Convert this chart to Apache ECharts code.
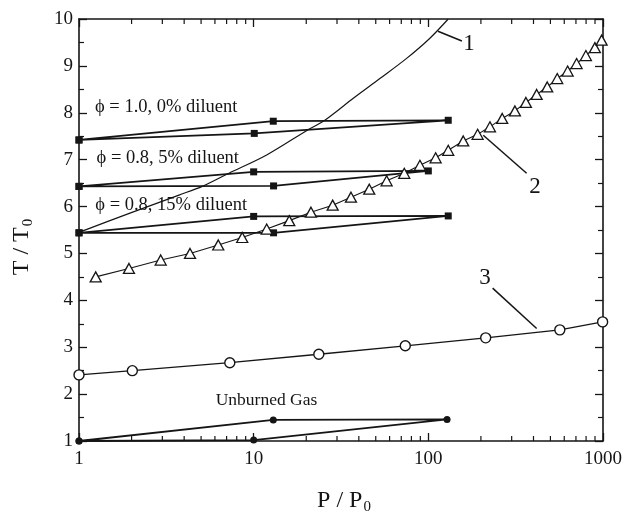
<!DOCTYPE html>
<html><head><meta charset="utf-8">
<script src="https://cdn.jsdelivr.net/npm/echarts@6/dist/echarts.min.js"></script>
<style>html,body{margin:0;padding:0;background:#fff}#c{width:622px;height:527px}</style>
</head><body><div id="c"></div>
<script>
// ---------- data ----------
const xMin = 1, xMax = 1000;
const yMin = 1, yMax = 10, yInterval = 1;
const minorXTicks = [2,3,4,5,6,7,8,9,20,30,40,50,60,70,80,90,200,300,400,500,600,700,800,900];
const xTickLabels = ['1', '10', '100', '1000'];

// curve 1
const curve1P = [1, 1.958, 3.735, 5.08, 7.22, 11.87, 20.5, 25.3, 37.2, 52.8, 75.1, 102.1, 130];
const curve1T = [5.45, 5.86, 6.245, 6.43, 6.71, 7.10, 7.64, 7.83, 8.31, 8.73, 9.16, 9.59, 10.0];

// curve 2 (triangles)
const tri2P = [1.246, 1.932, 2.936, 4.32, 6.27, 8.60, 11.87, 15.99, 21.28, 28.33, 36.06, 45.9, 57.7, 72.8, 89.5, 110.1, 130, 158.4, 191.5, 225.3, 264.8, 313.1, 362, 417, 479.3, 547, 627.3, 706, 798, 898.6, 981.7];
const tri2T = [4.50, 4.68, 4.86, 5.00, 5.18, 5.34, 5.52, 5.70, 5.88, 6.03, 6.20, 6.37, 6.55, 6.71, 6.88, 7.04, 7.20, 7.40, 7.54, 7.70, 7.88, 8.04, 8.22, 8.39, 8.55, 8.73, 8.89, 9.05, 9.22, 9.39, 9.55];

// curve 3 (circles)
const circ3P = [1, 2.02, 7.3, 23.6, 73.8, 213, 566, 995];
const circ3T = [2.41, 2.50, 2.67, 2.85, 3.03, 3.20, 3.37, 3.54];

// cycle loops
const loop10P = [1, 12.95, 130, 10.08, 1];
const loop10T = [7.42, 7.82, 7.84, 7.56, 7.42];
const loop05P = [1, 10, 100, 13, 1];
const loop05T = [6.43, 6.74, 6.76, 6.44, 6.43];
const loop15P = [1, 10, 130, 13, 1];
const loop15T = [5.44, 5.79, 5.80, 5.44, 5.44];
const unbP = [1, 12.95, 128, 10, 1];
const unbT = [1.0, 1.45, 1.46, 1.02, 1.0];

const annoTexts = ['ϕ = 1.0, 0% diluent', 'ϕ = 0.8, 5% diluent', 'ϕ = 0.8, 15% diluent', 'Unburned Gas'];
const curveNumbers = ['1', '2', '3'];

// ---------- layout (data-space anchors) ----------
const annoAnchors = [[1.235, 8.12], [1.26, 7.03], [1.24, 6.03], [6.06, 1.86]];
const annoSizes = [18.5, 18.5, 18.5, 17.5];
const numAnchors = [[170.8, 9.46], [407.5, 6.42], [210.9, 4.47]];
const pointerLines = [
  [[113.5, 9.74], [155.7, 9.53]],
  [[206.3, 7.52], [365.3, 6.71]],
  [[233.4, 4.26], [417, 3.40]]
];

const pairs = (xs, ys) => xs.map((x, i) => [x, ys[i]]);
const INK = '#151515';
const SERIF = "'Liberation Serif','DejaVu Serif',serif";

const chart = echarts.init(document.getElementById('c'), null, {renderer: 'canvas'});

const axisCommonX = {
  type: 'log', logBase: 10, min: xMin, max: xMax,
  axisLine: {show: true, lineStyle: {color: INK, width: 1.6}},
  axisTick: {show: true, inside: true, length: 8, lineStyle: {color: INK, width: 1.3}},
  splitLine: {show: false},
};
const axisCommonY = {
  type: 'value', min: yMin, max: yMax, interval: yInterval,
  axisLine: {show: true, lineStyle: {color: INK, width: 1.6}},
  axisTick: {show: true, inside: true, length: 8, lineStyle: {color: INK, width: 1.3}},
  minorTick: {show: true, splitNumber: 2, length: 5, lineStyle: {color: INK, width: 1.2}},
  splitLine: {show: false}, minorSplitLine: {show: false},
};

function loopSeries(xs, ys, symbol, size) {
  return {
    type: 'line', data: pairs(xs, ys), symbol: symbol, symbolSize: size,
    showSymbol: true, silent: true, z: 2,
    lineStyle: {color: INK, width: 1.8},
    itemStyle: {color: INK, borderWidth: 0}
  };
}

const option = {
  animation: false,
  backgroundColor: '#fff',
  grid: {left: 79, right: 19, top: 19, bottom: 86, containLabel: false, outerBoundsMode: 'none'},
  xAxis: [
    Object.assign({}, axisCommonX, {
      position: 'bottom',
      axisLabel: {show: true, color: INK, fontFamily: SERIF, fontSize: 19, margin: 9,
                  formatter: (v, i) => xTickLabels[i]},
      name: '{a|P / P}{s|0}', nameLocation: 'middle', nameGap: 45,
      nameTextStyle: {padding: [0, 0, 0, 6], rich: {
        a: {fontFamily: SERIF, fontSize: 24, color: INK},
        s: {fontFamily: SERIF, fontSize: 15, color: INK, padding: [14, 0, 0, 1]}
      }}
    }),
    Object.assign({}, axisCommonX, {position: 'top', axisLabel: {show: false}})
  ],
  yAxis: [
    Object.assign({}, axisCommonY, {
      position: 'left',
      axisLabel: {show: true, color: INK, fontFamily: SERIF, fontSize: 19, margin: 6},
      name: '{a|T / T}{s|0}', nameLocation: 'middle', nameGap: 43, nameRotate: 90,
      nameTextStyle: {padding: [0, 34, 0, 0], rich: {
        a: {fontFamily: SERIF, fontSize: 24, color: INK},
        s: {fontFamily: SERIF, fontSize: 15, color: INK, padding: [14, 0, 0, 1]}
      }}
    }),
    Object.assign({}, axisCommonY, {position: 'right', axisLabel: {show: false}})
  ],
  series: [
    loopSeries(loop10P, loop10T, 'rect', 7),
    loopSeries(loop05P, loop05T, 'rect', 7),
    loopSeries(loop15P, loop15T, 'rect', 7),
    loopSeries(unbP, unbT, 'circle', 7),
    {
      type: 'line', data: pairs(curve1P, curve1T), symbol: 'none', smooth: 0.3,
      clip: true, silent: true, z: 3,
      lineStyle: {color: INK, width: 1.2}
    },
    {
      type: 'line', data: pairs(tri2P, tri2T), symbol: 'triangle', symbolSize: [11, 10],
      showSymbol: true, silent: true, z: 4, clip: false,
      lineStyle: {color: INK, width: 1.1},
      itemStyle: {color: '#fff', borderColor: INK, borderWidth: 1.3}
    },
    {
      type: 'line', data: pairs(circ3P, circ3T), symbol: 'circle', symbolSize: 10,
      showSymbol: true, silent: true, z: 4, clip: false,
      lineStyle: {color: INK, width: 1.3},
      itemStyle: {color: '#fff', borderColor: INK, borderWidth: 1.4}
    }
  ]
};
chart.setOption(option);

// ---------- annotations & minor ticks via the chart's own scale ----------
const px = (p) => chart.convertToPixel({xAxisIndex: 0, yAxisIndex: 0}, p);
const g = [];
const yBottom = px([xMin, yMin])[1];
const yTop = px([xMin, yMax])[1];
minorXTicks.forEach(v => {
  const x = px([v, yMin])[0];
  g.push({type: 'line', shape: {x1: x, y1: yBottom, x2: x, y2: yBottom - 5}, style: {stroke: INK, lineWidth: 1.2}, silent: true, z: 10});
  g.push({type: 'line', shape: {x1: x, y1: yTop, x2: x, y2: yTop + 5}, style: {stroke: INK, lineWidth: 1.2}, silent: true, z: 10});
});
annoTexts.forEach((t, i) => {
  const p = px(annoAnchors[i]);
  g.push({type: 'text', x: p[0], y: p[1], silent: true, z: 10,
    style: {text: t, fill: INK, font: annoSizes[i] + "px 'Liberation Serif', serif", textAlign: 'left', textVerticalAlign: 'middle'}});
});
curveNumbers.forEach((t, i) => {
  const p = px(numAnchors[i]);
  g.push({type: 'text', x: p[0], y: p[1], silent: true, z: 10,
    style: {text: t, fill: INK, font: "23px 'Liberation Serif', serif", textAlign: 'center', textVerticalAlign: 'middle'}});
});
pointerLines.forEach(l => {
  const a = px(l[0]), b = px(l[1]);
  g.push({type: 'line', shape: {x1: a[0], y1: a[1], x2: b[0], y2: b[1]}, style: {stroke: INK, lineWidth: 1.5}, silent: true, z: 10});
});
chart.setOption({graphic: g});
</script>
</body></html>
